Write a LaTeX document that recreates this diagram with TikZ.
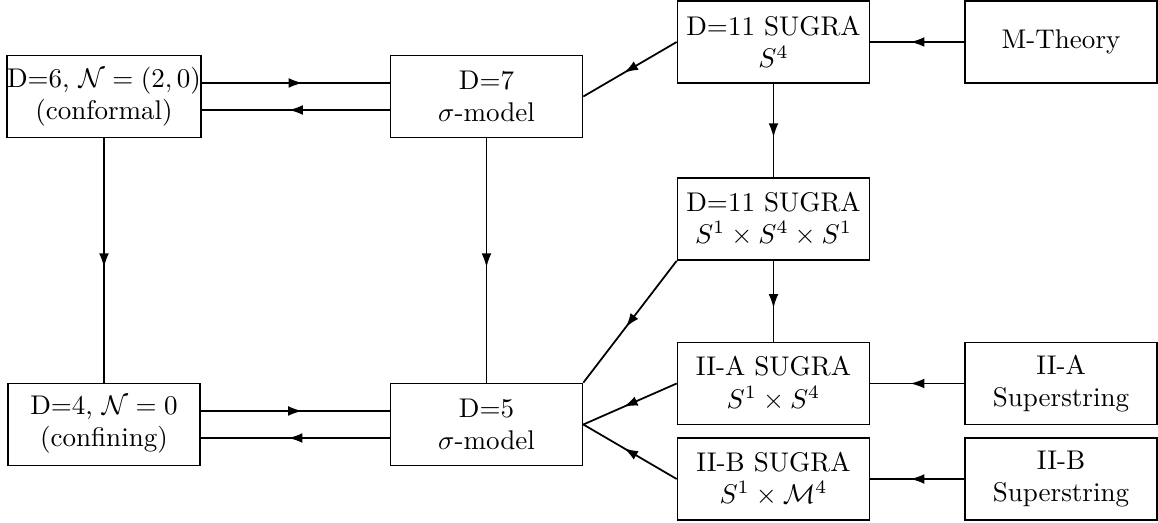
\documentclass[tikz,border=0pt]{standalone}
\usetikzlibrary{arrows.meta,decorations.markings}
\begin{document}
\begin{tikzpicture}[x=0.37pt,y=-0.37pt,
  box/.style={draw,line width=0.65pt,minimum width=71pt,minimum height=30.3pt,inner sep=0pt,align=center},
  con/.style={line width=0.65pt,postaction={decorate},decoration={markings,mark=at position 0.5 with {\pgftransformxshift{2.6pt}\arrow{Latex[length=5.2pt,width=3.6pt]}}}}]
\useasboundingbox (0,0) rectangle (1158,523);
\node[box] (d6) at (104,96.5) {D=6, $\mathcal{N}=(2,0)$\\(conformal)};
\node[box] (d7) at (486.5,96.5) {D=7\\$\sigma$-model};
\node[box] (s4) at (773.5,42) {D=11 SUGRA\\$S^4$};
\node[box] (mth) at (1061,42) {M-Theory};
\node[box] (s141) at (773.5,219) {D=11 SUGRA\\$S^1\times S^4\times S^1$};
\node[box] (iia) at (773.5,383.5) {II-A SUGRA\\$S^1\times S^4$};
\node[box] (iias) at (1061,383.5) {II-A\\Superstring};
\node[box] (iib) at (773.5,479) {II-B SUGRA\\$S^1\times \mathcal{M}^4$};
\node[box] (iibs) at (1061,479) {II-B\\Superstring};
\node[box] (d4) at (104,424.5) {D=4, $\mathcal{N}=0$\\(confining)};
\node[box] (d5) at (486.5,424.5) {D=5\\$\sigma$-model};
% connectors
\draw[con] ([yshift=5pt]d6.east) -- ([yshift=5pt]d7.west);
\draw[con] ([yshift=-5pt]d7.west) -- ([yshift=-5pt]d6.east);
\draw[con] ([yshift=5pt]d4.east) -- ([yshift=5pt]d5.west);
\draw[con] ([yshift=-5pt]d5.west) -- ([yshift=-5pt]d4.east);
\draw[con] (d6.south) -- (d4.north);
\draw[con] (d7.south) -- (d5.north);
\draw[con] (s4.west) -- (d7.east);
\draw[con] (mth.west) -- (s4.east);
\draw[con] (s4.south) -- (s141.north);
\draw[con] (s141.south) -- (iia.north);
\draw[con] (s141.south west) -- (d5.north east);
\draw[con] (iia.west) -- (d5.east);
\draw[con] (iib.west) -- (d5.east);
\draw[con] (iias.west) -- (iia.east);
\draw[con] (iibs.west) -- (iib.east);
\end{tikzpicture}
\end{document}
